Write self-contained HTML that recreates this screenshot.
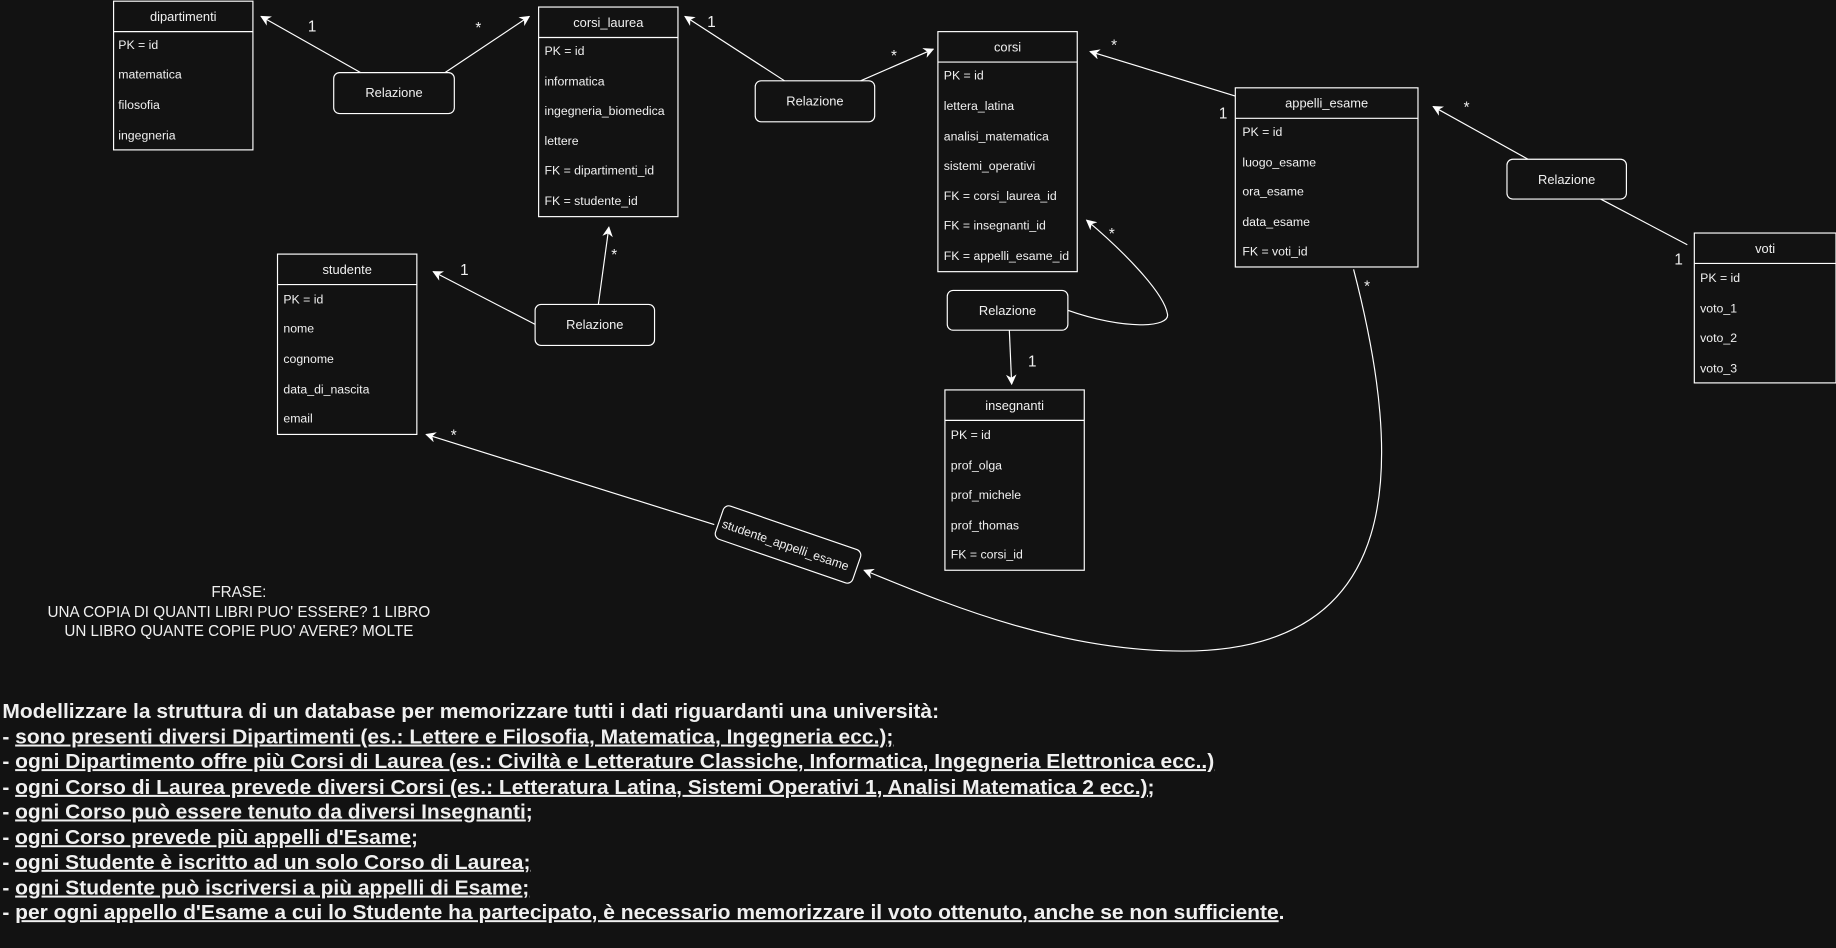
<!DOCTYPE html>
<html><head><meta charset="utf-8"><style>
html,body{margin:0;padding:0;background:#121212;}
svg{display:block;}
text{font-family:"Liberation Sans",sans-serif;fill:#f0f0f0;}
</style></head><body>
<svg width="1836" height="948" viewBox="0 0 1568 809.6" xmlns="http://www.w3.org/2000/svg">
<defs>
<marker id="a" viewBox="0 0 10 10" refX="9" refY="5" markerWidth="9" markerHeight="9" orient="auto" markerUnits="userSpaceOnUse">
<path d="M0,0 L10,5 L0,10 L3,5 z" fill="#fff"/></marker>
</defs>
<rect width="1568" height="810" fill="#121212"/>
<g fill="none" stroke="#fff" stroke-width="1">
<rect x="97" y="1" width="119" height="127"/><line x1="97" y1="27" x2="216" y2="27"/>
<rect x="460" y="6" width="119" height="179"/><line x1="460" y1="32" x2="579" y2="32"/>
<rect x="801" y="27" width="119" height="205"/><line x1="801" y1="53" x2="920" y2="53"/>
<rect x="1055" y="75" width="156" height="153"/><line x1="1055" y1="101" x2="1211" y2="101"/>
<rect x="1447" y="199" width="121" height="128"/><line x1="1447" y1="225" x2="1568" y2="225"/>
<rect x="237" y="217" width="119" height="154"/><line x1="237" y1="243" x2="356" y2="243"/>
<rect x="807" y="333" width="119" height="154"/><line x1="807" y1="359" x2="926" y2="359"/>
<rect x="285" y="62" width="103" height="35" rx="5"/>
<rect x="645" y="69" width="102" height="35" rx="5"/>
<rect x="457" y="260" width="102" height="35" rx="5"/>
<rect x="809" y="248" width="103" height="34" rx="5"/>
<rect x="1287" y="136" width="102" height="34" rx="5"/>
<rect x="-62" y="-15" width="124" height="30" rx="5" transform="translate(673,465) rotate(19)"/>
<line x1="308" y1="62" x2="223" y2="14" marker-end="url(#a)"/>
<line x1="380" y1="62" x2="452" y2="14" marker-end="url(#a)"/>
<line x1="670" y1="69" x2="585" y2="14" marker-end="url(#a)"/>
<line x1="735" y1="69" x2="797" y2="42" marker-end="url(#a)"/>
<line x1="457" y1="277" x2="370" y2="232" marker-end="url(#a)"/>
<line x1="511" y1="260" x2="520" y2="194" marker-end="url(#a)"/>
<line x1="1055" y1="82" x2="931" y2="44" marker-end="url(#a)"/>
<line x1="1305" y1="136" x2="1224" y2="91" marker-end="url(#a)"/>
<line x1="1367" y1="170" x2="1441" y2="209"/>
<line x1="862" y1="282" x2="864" y2="328" marker-end="url(#a)"/>
<path d="M912,265 C960,282 1000,280 997,268 C994,250 960,215 928,188" marker-end="url(#a)"/>
<line x1="610" y1="448" x2="364" y2="371" marker-end="url(#a)"/>
<path d="M1156,230 C1200,400 1200,556 1010,556 C900,556 800,512 738,487" marker-end="url(#a)"/>
</g>
<g font-size="11" text-anchor="middle">
<text x="156.5" y="18">dipartimenti</text>
<text x="519.5" y="23">corsi_laurea</text>
<text x="860.5" y="44">corsi</text>
<text x="1133" y="92">appelli_esame</text>
<text x="1507.5" y="216">voti</text>
<text x="296.5" y="234">studente</text>
<text x="866.5" y="350">insegnanti</text>
<text x="336.5" y="83">Relazione</text>
<text x="696" y="90">Relazione</text>
<text x="508" y="281">Relazione</text>
<text x="860.5" y="269">Relazione</text>
<text x="1338" y="157">Relazione</text>
<text x="0" y="4" font-size="10.5" transform="translate(671,465) rotate(19)">studente_appelli_esame</text>
</g>
<g font-size="10.5">
<text x="101" y="42">PK = id</text><text x="101" y="67">matematica</text><text x="101" y="93">filosofia</text><text x="101" y="119">ingegneria</text>
<text x="465" y="47">PK = id</text><text x="465" y="73">informatica</text><text x="465" y="98">ingegneria_biomedica</text><text x="465" y="124">lettere</text><text x="465" y="149">FK = dipartimenti_id</text><text x="465" y="175">FK = studente_id</text>
<text x="806" y="68">PK = id</text><text x="806" y="94">lettera_latina</text><text x="806" y="120">analisi_matematica</text><text x="806" y="145">sistemi_operativi</text><text x="806" y="171">FK = corsi_laurea_id</text><text x="806" y="196">FK = insegnanti_id</text><text x="806" y="222">FK = appelli_esame_id</text>
<text x="1061" y="116">PK = id</text><text x="1061" y="142">luogo_esame</text><text x="1061" y="167">ora_esame</text><text x="1061" y="193">data_esame</text><text x="1061" y="218">FK = voti_id</text>
<text x="1452" y="241">PK =  id</text><text x="1452" y="267">voto_1</text><text x="1452" y="292">voto_2</text><text x="1452" y="318">voto_3</text>
<text x="242" y="259">PK = id</text><text x="242" y="284">nome</text><text x="242" y="310">cognome</text><text x="242" y="336">data_di_nascita</text><text x="242" y="361">email</text>
<text x="812" y="375">PK = id</text><text x="812" y="401">prof_olga</text><text x="812" y="426">prof_michele</text><text x="812" y="452">prof_thomas</text><text x="812" y="477">FK = corsi_id</text>
</g>
<g font-size="13">
<text x="263" y="27">1</text><text x="406" y="28">*</text>
<text x="604" y="23">1</text><text x="761" y="52">*</text>
<text x="393" y="235">1</text><text x="522" y="222">*</text>
<text x="949" y="43">*</text><text x="1041" y="101">1</text>
<text x="1250" y="96">*</text><text x="1430" y="226">1</text>
<text x="947" y="204">*</text><text x="878" y="313">1</text>
<text x="385" y="376">*</text><text x="1165" y="249">*</text>
</g>
<g font-size="13" text-anchor="middle">
<text x="204" y="510">FRASE:</text>
<text x="204" y="527">UNA COPIA DI QUANTI LIBRI PUO' ESSERE? 1 LIBRO</text>
<text x="204" y="543">UN LIBRO QUANTE COPIE PUO' AVERE? MOLTE</text>
</g>
<g font-size="17" font-weight="bold">
<text x="2" y="613" textLength="800" lengthAdjust="spacingAndGlyphs">Modellizzare la struttura di un database per memorizzare tutti i dati riguardanti una università:</text>
<text x="2" y="635" textLength="761" lengthAdjust="spacingAndGlyphs">- <tspan text-decoration="underline">sono presenti diversi Dipartimenti (es.: Lettere e Filosofia, Matematica, Ingegneria ecc.);</tspan></text>
<text x="2" y="656" textLength="1035" lengthAdjust="spacingAndGlyphs">- <tspan text-decoration="underline">ogni Dipartimento offre più Corsi di Laurea (es.: Civiltà e Letterature Classiche, Informatica, Ingegneria Elettronica ecc..)</tspan></text>
<text x="2" y="678" textLength="984" lengthAdjust="spacingAndGlyphs">- <tspan text-decoration="underline">ogni Corso di Laurea prevede diversi Corsi (es.: Letteratura Latina, Sistemi Operativi 1, Analisi Matematica 2 ecc.);</tspan></text>
<text x="2" y="699" textLength="453" lengthAdjust="spacingAndGlyphs">- <tspan text-decoration="underline">ogni Corso può essere tenuto da diversi Insegnanti</tspan>;</text>
<text x="2" y="721" textLength="355" lengthAdjust="spacingAndGlyphs">- <tspan text-decoration="underline">ogni Corso prevede più appelli d'Esame</tspan>;</text>
<text x="2" y="742" textLength="451" lengthAdjust="spacingAndGlyphs">- <tspan text-decoration="underline">ogni Studente è iscritto ad un solo Corso di Laurea;</tspan></text>
<text x="2" y="764" textLength="450" lengthAdjust="spacingAndGlyphs">- <tspan text-decoration="underline">ogni Studente può iscriversi a più appelli di Esame;</tspan></text>
<text x="2" y="785" textLength="1095" lengthAdjust="spacingAndGlyphs">- <tspan text-decoration="underline">per ogni appello d'Esame a cui lo Studente ha partecipato, è necessario memorizzare il voto ottenuto, anche se non sufficiente</tspan>.</text>
</g>
</svg>
</body></html>
